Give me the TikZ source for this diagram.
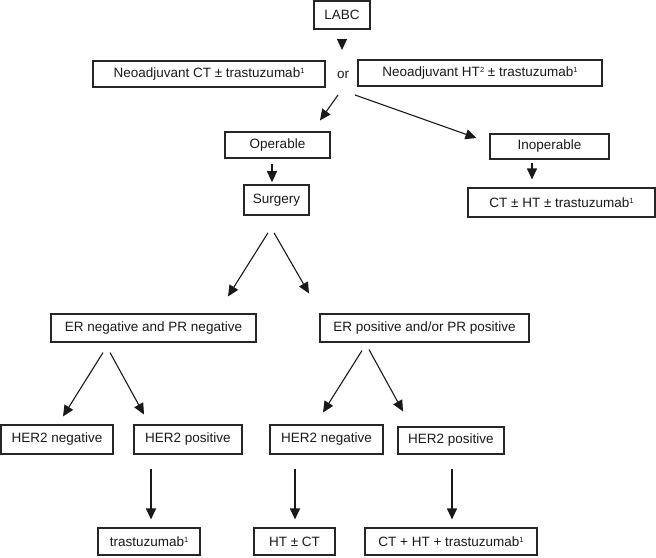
\documentclass[tikz,border=0pt]{standalone}
\usepackage{fontspec}
\setmainfont{Liberation Sans}
\usetikzlibrary{shapes,arrows.meta,calc}

\tikzset{
  box/.style={draw=black!85, line width=1.1pt, inner sep=0pt, text=black!90,
    font=\fontsize{13.5}{16}\selectfont},
  arr/.style={-{Triangle[length=11pt,width=10pt]}, line width=1.1pt, draw=black!90},
}
\newcommand{\sups}[1]{\raisebox{0.55ex}{\fontsize{7.5}{8}\selectfont #1}}

\begin{document}
\begin{tikzpicture}[x=1pt,y=-1pt]
\useasboundingbox (0,0) rectangle (656,557);
% top of the chart
\node[box, minimum width=56pt, minimum height=28pt] (labc) at (342,15) {LABC};
\node[box, minimum width=232pt, minimum height=26pt] (neoct) at (209,74) {Neoadjuvant CT ± trastuzumab\sups{1}};
\node[font=\fontsize{13.5}{16}\selectfont, text=black!90] (or) at (343,75) {or};
\node[box, minimum width=244pt, minimum height=26pt] (neoht) at (480,73) {Neoadjuvant HT\sups{2} ± trastuzumab\sups{1}};
\node[box, minimum width=105pt, minimum height=26pt] (oper) at (277.5,145) {Operable};
\node[box, line width=1.6pt, minimum width=65pt, minimum height=30pt] (surg) at (276.5,200) {Surgery};
\node[box, minimum width=119pt, minimum height=25pt] (inoper) at (549.5,146.5) {Inoperable};
\node[box, minimum width=187pt, minimum height=29pt] (ctht) at (561.5,202.5) {CT ± HT ± trastuzumab\sups{1}};
% receptor status
\node[box, minimum width=205pt, minimum height=28pt] (erneg) at (153.5,328) {ER negative and PR negative};
\node[box, minimum width=209pt, minimum height=28pt] (erpos) at (424.5,328) {ER positive and/or PR positive};
\node[box, minimum width=112pt, minimum height=29pt] (hnegl) at (57,439.5) {HER2 negative};
\node[box, minimum width=108pt, minimum height=29pt] (hposl) at (188,439.5) {HER2 positive};
\node[box, minimum width=113pt, minimum height=29pt] (hnegr) at (326.5,439.5) {HER2 negative};
\node[box, minimum width=106pt, minimum height=27pt] (hposr) at (451,440.5) {HER2 positive};
\node[box, minimum width=102pt, minimum height=27pt] (trast) at (149,541.5) {trastuzumab\sups{1}};
\node[box, minimum width=81pt, minimum height=27pt] (htct) at (294.5,541.5) {HT ± CT};
\node[box, minimum width=172pt, minimum height=27pt] (cthttr) at (451,541.5) {CT + HT + trastuzumab\sups{1}};

% arrows
\draw[arr] ($(labc.south)+(0,10)$) -- ($(or.center)+(-1,-25)$);
\draw[arr] ($(or.center)+(-5,20)$) -- ($(oper.north)+(42.5,-11)$);
\draw[arr] ($(or.center)+(12,20)$) -- ($(inoper.west)+(-13,-8.5)$);
\draw[arr] ($(oper.south)+(-5.5,5)$) -- ($(surg.north)+(-4.5,-2)$);
\draw[arr] ($(inoper.south)+(-17.5,3)$) -- ($(ctht.north)+(-29.5,-8)$);
\draw[arr] ($(surg.south)+(-8.5,17)$) -- ($(erneg.north)+(74.5,-17)$);
\draw[arr] ($(surg.south)+(-2.5,17)$) -- ($(erpos.north)+(-115.5,-20)$);
\draw[arr] ($(erneg.south)+(-50.5,10)$) -- ($(hnegl.north)+(6,-8)$);
\draw[arr] ($(erneg.south)+(-43.5,10)$) -- ($(hposl.north)+(-44,-10)$);
\draw[arr] ($(erpos.south)+(-62.5,8)$) -- ($(hnegr.north)+(-3.5,-12)$);
\draw[arr] ($(erpos.south)+(-55.5,7)$) -- ($(hposr.north)+(-48,-15)$);
\foreach \a/\b/\s/\e in {hposl/trast/-37/2, hnegr/htct/-31.5/0.5, hposr/cthttr/1/1}
  \draw[arr] ($(\a.south)+(\s,14)$) -- ($(\b.north)+(\e,-8)$);
\end{tikzpicture}
\end{document}
